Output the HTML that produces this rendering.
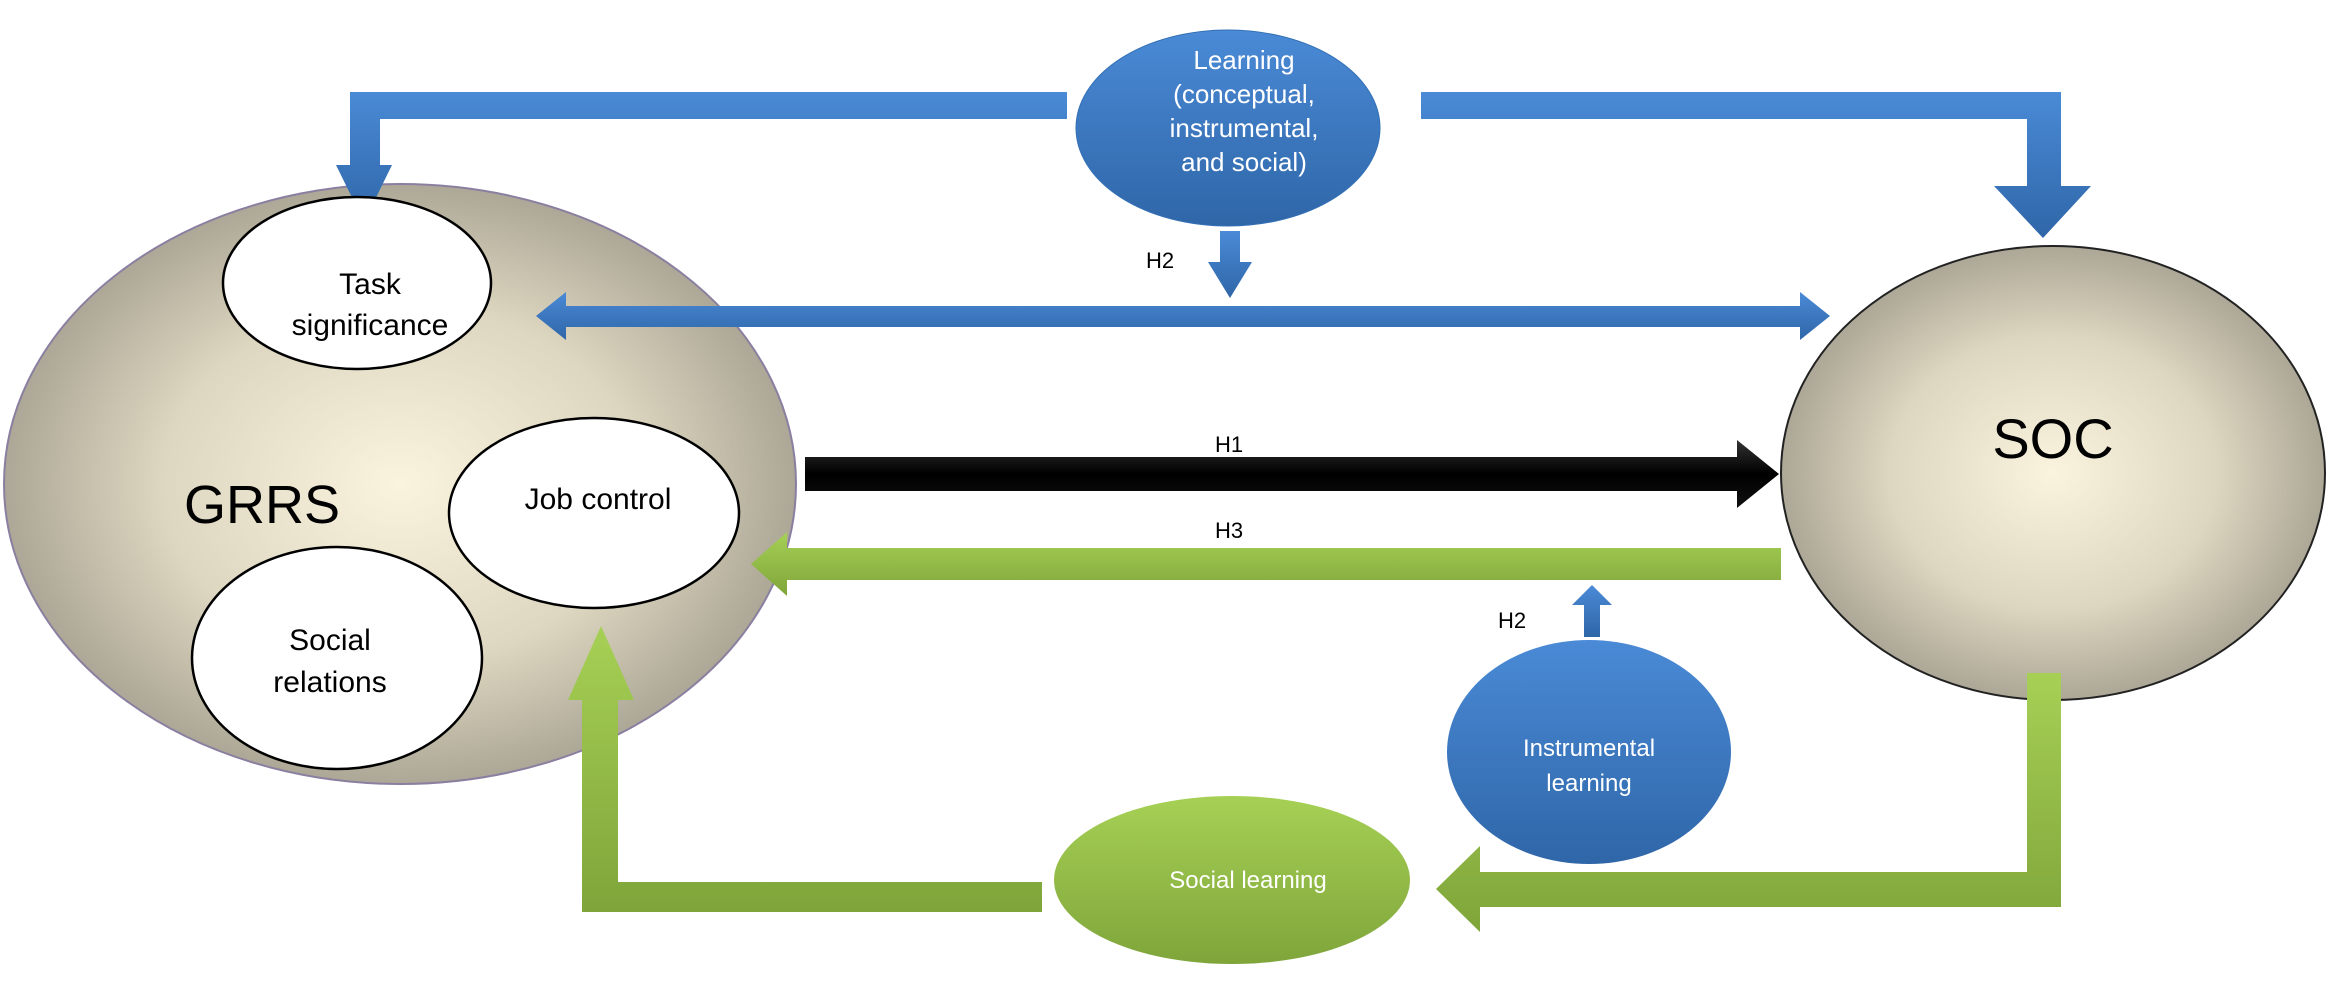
<!DOCTYPE html>
<html><head><meta charset="utf-8"><style>
html,body{margin:0;padding:0;background:#fff;}
svg{display:block;font-family:"Liberation Sans",Arial,sans-serif;}
</style></head><body>
<svg width="2333" height="989" viewBox="0 0 2333 989" xmlns="http://www.w3.org/2000/svg">
<defs>
<radialGradient id="cream" cx="50%" cy="50%" r="50%">
<stop offset="0" stop-color="#faf4de"/><stop offset="0.6" stop-color="#ddd6c0"/><stop offset="1" stop-color="#aca796"/>
</radialGradient>
<linearGradient id="blue" x1="0" y1="0" x2="0" y2="1">
<stop offset="0" stop-color="#4a8ad6"/><stop offset="1" stop-color="#2f66a8"/>
</linearGradient>
<linearGradient id="green" x1="0" y1="0" x2="0" y2="1">
<stop offset="0" stop-color="#a6d055"/><stop offset="1" stop-color="#7fa53a"/>
</linearGradient>
<linearGradient id="blk" x1="0" y1="0" x2="0" y2="1">
<stop offset="0" stop-color="#333"/><stop offset="0.5" stop-color="#000"/><stop offset="1" stop-color="#111"/>
</linearGradient>
</defs>

<ellipse cx="400" cy="484" rx="396" ry="300" fill="url(#cream)" stroke="#8a7fa0" stroke-width="2"/>
<ellipse cx="2053" cy="473" rx="272" ry="227" fill="url(#cream)" stroke="#222" stroke-width="2"/>

<polygon points="1067,92 350,92 350,165 336,165 364,222 392,165 380,165 380,119 1067,119" fill="url(#blue)"/>
<polygon points="1421,92 2061,92 2061,186 2091,186 2043,238 1994,186 2027,186 2027,119 1421,119" fill="url(#blue)"/>
<polygon points="1220,231 1240,231 1240,262 1252,262 1230,298 1208,262 1220,262" fill="url(#blue)"/>
<text x="1146" y="268" font-size="22" fill="#000">H2</text>
<polygon points="536,316 566,292 566,306 1800,306 1800,292 1830,316 1800,340 1800,327 566,327 566,340" fill="url(#blue)"/>

<polygon points="805,457 1737,457 1737,440 1779,474 1737,508 1737,491 805,491" fill="url(#blk)"/>
<text x="1215" y="452" font-size="22" fill="#000">H1</text>

<polygon points="1781,548 1781,580 787,580 787,596 751,564 787,532 787,548" fill="url(#green)"/>
<text x="1215" y="538" font-size="22" fill="#000">H3</text>

<polygon points="1584,637 1600,637 1600,605 1612,605 1592,585 1572,605 1584,605" fill="url(#blue)"/>
<text x="1498" y="628" font-size="22" fill="#000">H2</text>

<polygon points="2027,673 2061,673 2061,907 1480,907 1480,932 1436,889 1480,846 1480,872 2027,872" fill="url(#green)"/>
<polygon points="1042,882 1042,912 582,912 582,700 568,700 601,626 634,700 618,700 618,882" fill="url(#green)"/>

<ellipse cx="1228" cy="128" rx="152" ry="98" fill="url(#blue)" stroke="#3370b5" stroke-width="1"/>
<text fill="#fff" font-size="26" text-anchor="middle"><tspan x="1244" y="69">Learning</tspan><tspan x="1244" y="103">(conceptual,</tspan><tspan x="1244" y="137">instrumental,</tspan><tspan x="1244" y="171">and social)</tspan></text>

<ellipse cx="1589" cy="752" rx="142" ry="112" fill="url(#blue)"/>
<text fill="#fff" font-size="24" text-anchor="middle"><tspan x="1589" y="756">Instrumental</tspan><tspan x="1589" y="791">learning</tspan></text>

<ellipse cx="1232" cy="880" rx="178" ry="84" fill="url(#green)"/>
<text x="1248" y="888" fill="#fff" font-size="24" text-anchor="middle">Social learning</text>

<ellipse cx="357" cy="283" rx="134" ry="86" fill="#fff" stroke="#000" stroke-width="2.5"/>
<text font-size="30" text-anchor="middle" fill="#000"><tspan x="370" y="294">Task</tspan><tspan x="370" y="335">significance</tspan></text>
<ellipse cx="594" cy="513" rx="145" ry="95" fill="#fff" stroke="#000" stroke-width="2.5"/>
<text x="598" y="509" font-size="30" text-anchor="middle" fill="#000">Job control</text>
<ellipse cx="337" cy="658" rx="145" ry="111" fill="#fff" stroke="#000" stroke-width="2.5"/>
<text font-size="30" text-anchor="middle" fill="#000"><tspan x="330" y="650">Social</tspan><tspan x="330" y="692">relations</tspan></text>

<text x="262" y="523" font-size="54" text-anchor="middle" fill="#000">GRRS</text>
<text x="2053" y="458" font-size="56" text-anchor="middle" fill="#000">SOC</text>
</svg>
</body></html>
